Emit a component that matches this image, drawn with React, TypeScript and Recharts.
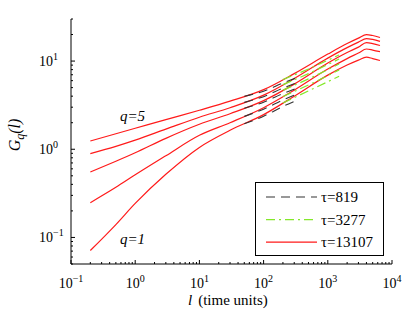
import { LineChart, Line, XAxis, YAxis, Legend, ReferenceDot, Label } from "recharts"

const FONT = "'Liberation Serif', 'Times New Roman', serif"

// tau = 13107 (solid red), one list per q
const xLong = [0.2, 0.5, 1, 3, 10, 30, 100, 300, 1000, 2000, 3000, 4000, 5000, 6500]
const longQ1 = [0.0711, 0.14, 0.243, 0.52, 1.05, 1.64, 2.47, 4.0, 6.93, 9.01, 10.26, 11.1, 10.67, 10.14]
const longQ2 = [0.248, 0.37, 0.513, 0.844, 1.44, 2.0, 2.96, 4.68, 8.11, 10.67, 12.33, 13.7, 13.34, 12.8]
const longQ3 = [0.552, 0.731, 0.912, 1.33, 1.92, 2.53, 3.56, 5.48, 9.49, 12.5, 14.4, 16.2, 15.8, 15.0]
const longQ4 = [0.894, 1.08, 1.27, 1.69, 2.31, 2.96, 4.11, 6.33, 10.8, 14.2, 16.4, 18.0, 17.6, 16.7]
const longQ5 = [1.24, 1.5, 1.73, 2.17, 2.77, 3.51, 4.74, 7.21, 12.0, 15.8, 18.2, 20.0, 19.5, 18.5]

// tau = 819 (black dashed)
const xShort = [50, 100, 200, 350]
const shortQ1 = [1.95, 2.37, 3.06, 3.67]
const shortQ2 = [2.36, 2.85, 3.61, 4.3]
const shortQ3 = [2.92, 3.42, 4.27, 5.02]
const shortQ4 = [3.4, 3.95, 4.93, 5.79]
const shortQ5 = [3.99, 4.56, 5.64, 6.58]

// tau = 3277 (green dash-dot)
const xMid = [200, 500, 1500]
const midQ1 = [3.35, 4.59, 6.72]
const midQ2 = [3.96, 5.36, 7.92]
const midQ3 = [4.68, 6.28, 9.27]
const midQ4 = [5.41, 7.21, 10.56]
const midQ5 = [6.18, 8.13, 11.73]

const xMajor = [0.1, 1, 10, 100, 1000, 10000]
const yMajor = [0.1, 1, 10]
const xDomain = [0.1, 10000]
const yDomain = [0.05, 30]

const minors = (lo: number, hi: number, min: number, max: number) => {
  const out: number[] = []
  for (let e = lo; e <= hi; e++) for (let m = 2; m <= 9; m++) out.push(m * Math.pow(10, e))
  return out.filter((v) => v >= min && v <= max)
}
const xTicks = [...xMajor, ...minors(-1, 3, 0.1, 10000)].sort((a, b) => a - b)
const yTicks = [...yMajor, ...minors(-2, 1, 0.05, 30)].sort((a, b) => a - b)

const rows = (xs: number[], ys: number[]) => xs.map((x, i) => ({ x, y: ys[i] }))

const families = [
  { name: "τ=13107", color: "#ff1a1a", dash: undefined, width: 1.2, xs: xLong, curves: [longQ1, longQ2, longQ3, longQ4, longQ5] },
  { name: "τ=819", color: "#333333", dash: "9 6", width: 1.1, xs: xShort, curves: [shortQ1, shortQ2, shortQ3, shortQ4, shortQ5] },
  { name: "τ=3277", color: "#84e82a", dash: "9 4 2 4", width: 1.2, xs: xMid, curves: [midQ1, midQ2, midQ3, midQ4, midQ5] },
]
const legendOrder = ["τ=819", "τ=3277", "τ=13107"]

const annotations = [
  { label: "q=5", x: 0.58, y: 2.11 },
  { label: "q=1", x: 0.58, y: 0.0844 },
]

const isMajor = (list: number[], v: number) => list.some((m) => Math.abs(m - v) / m < 1e-9)
const exponent = (v: number) => {
  const e = Math.round(Math.log10(v))
  return e < 0 ? "\u2212" + Math.abs(e) : String(e)
}

const xTick = (side: "bottom" | "top") => (props: any) => {
  const { x, y, payload } = props
  const major = isMajor(xMajor, payload.value)
  const len = major ? 4 : 2
  const dir = side === "bottom" ? -1 : 1
  return (
    <g>
      <line x1={x} x2={x} y1={y} y2={y + dir * len} stroke="#000" strokeWidth={1} />
      {major && side === "bottom" && (
        <text x={x} y={y + 24} textAnchor="middle" fontFamily={FONT} fontSize={14} fill="#000">
          10<tspan dy={-6} fontSize={10}>{exponent(payload.value)}</tspan>
        </text>
      )}
    </g>
  )
}

const yTick = (side: "left" | "right") => (props: any) => {
  const { x, y, payload } = props
  const major = isMajor(yMajor, payload.value)
  const len = major ? 4 : 2
  const dir = side === "left" ? 1 : -1
  return (
    <g>
      <line x1={x} x2={x + dir * len} y1={y} y2={y} stroke="#000" strokeWidth={1} />
      {major && side === "left" && (
        <text x={x - 32} y={y + 5} textAnchor="start" fontFamily={FONT} fontSize={14} fill="#000">
          10<tspan dy={-6} fontSize={10}>{exponent(payload.value)}</tspan>
        </text>
      )}
    </g>
  )
}

const XTitle = (props: any) => {
  const vb = props.viewBox
  return (
    <text x={vb.x + 117} y={vb.y + 41} fontFamily={FONT} fontSize={15} fill="#000">
      <tspan fontStyle="italic">l</tspan>
      <tspan dx={6}>(time units)</tspan>
    </text>
  )
}

const YTitle = (props: any) => {
  const vb = props.viewBox
  return (
    <text
      transform={`translate(${vb.x + 20},${vb.y + 116}) rotate(-90)`}
      textAnchor="middle"
      fontFamily={FONT}
      fontSize={16}
      fontStyle="italic"
      fill="#000"
    >
      G<tspan fontSize={12} dy={4}>q</tspan>
      <tspan dy={-4}>(l)</tspan>
    </text>
  )
}

const AnnotationLabel = (text: string) => (props: any) => {
  const vb = props.viewBox
  return (
    <text x={vb.x} y={vb.y} fontFamily={FONT} fontSize={15} fontStyle="italic" fill="#000">
      {text}
    </text>
  )
}

const LegendBox = (props: any) => {
  const payload = (props.payload || []) as any[]
  const items = legendOrder
    .map((n) => payload.find((p) => p.value === n))
    .filter(Boolean)
  return (
    <div style={{ width: 129, height: 74, border: "1px solid #000", background: "#fff", boxSizing: "border-box" }}>
      <svg width={127} height={72} style={{ display: "block" }}>
        {items.map((it, i) => {
          const fam = families.find((f) => f.name === it.value)!
          const cy = 14 + i * 22.6
          return (
            <g key={it.value}>
              <line x1={10} x2={61} y1={cy} y2={cy} stroke={fam.color} strokeWidth={fam.width} strokeDasharray={fam.dash} />
              <text x={65} y={cy + 5} fontFamily={FONT} fontSize={15} fill="#000">
                {it.value}
              </text>
            </g>
          )
        })}
      </svg>
    </div>
  )
}

export default function App() {
  return (
    <div>
      <style>{"body{margin:0;background:#fff}"}</style>
      <LineChart width={409} height={316} margin={{ top: 19, right: 17, bottom: 0, left: 0 }}>
        <XAxis
          xAxisId="b"
          type="number"
          dataKey="x"
          scale="log"
          domain={xDomain}
          allowDataOverflow
          ticks={xTicks}
          interval={0}
          tick={xTick("bottom")}
          tickLine={false}
          tickSize={0}
          tickMargin={0}
          height={52}
          axisLine={{ stroke: "#000" }}
        >
          <Label content={XTitle} />
        </XAxis>
        <XAxis
          xAxisId="t"
          orientation="top"
          type="number"
          dataKey="x"
          scale="log"
          domain={xDomain}
          allowDataOverflow
          ticks={xTicks}
          interval={0}
          tick={xTick("top")}
          tickLine={false}
          tickSize={0}
          tickMargin={0}
          height={0}
          axisLine={{ stroke: "#000" }}
        />
        <YAxis
          yAxisId="l"
          type="number"
          scale="log"
          domain={yDomain}
          allowDataOverflow
          ticks={yTicks}
          interval={0}
          tick={yTick("left")}
          tickLine={false}
          tickSize={0}
          tickMargin={0}
          width={71}
          axisLine={{ stroke: "#000" }}
        >
          <Label content={YTitle} />
        </YAxis>
        <YAxis
          yAxisId="r"
          orientation="right"
          type="number"
          scale="log"
          domain={yDomain}
          allowDataOverflow
          ticks={yTicks}
          interval={0}
          tick={yTick("right")}
          tickLine={false}
          tickSize={0}
          tickMargin={0}
          width={0}
          axisLine={{ stroke: "#000" }}
        />
        {families.map((fam) =>
          fam.curves.map((ys, qi) => (
            <Line
              key={fam.name + qi}
              xAxisId="b"
              yAxisId="l"
              data={rows(fam.xs, ys)}
              dataKey="y"
              name={fam.name}
              type="monotone"
              stroke={fam.color}
              strokeWidth={fam.width}
              strokeDasharray={fam.dash}
              dot={false}
              activeDot={false}
              legendType={qi === 0 ? "line" : "none"}
              isAnimationActive={false}
            />
          ))
        )}
        {annotations.map((a) => (
          <ReferenceDot
            key={a.label}
            xAxisId="b"
            yAxisId="l"
            x={a.x}
            y={a.y}
            r={0}
            fill="none"
            stroke="none"
            label={AnnotationLabel(a.label)}
          />
        ))}
        <Legend
          layout="vertical"
          align="center"
          verticalAlign="middle"
          content={LegendBox}
          wrapperStyle={{ left: 255, top: 182, width: 129, height: 74 }}
        />
      </LineChart>
    </div>
  )
}
